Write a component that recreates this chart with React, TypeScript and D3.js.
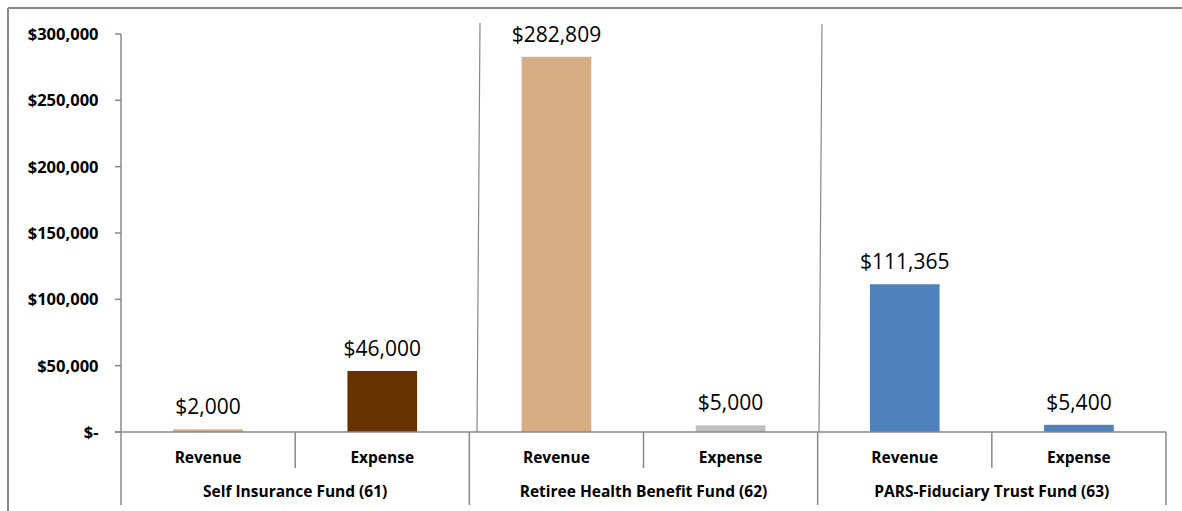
import React from "react";
import * as d3 from "d3";

const groups = ["Self Insurance Fund (61)", "Retiree Health Benefit Fund (62)", "PARS-Fiduciary Trust Fund (63)"];
const kinds = ["Revenue", "Expense"];
const values = [2000, 46000, 282809, 5000, 111365, 5400];
const barColors = ["#D6AD85", "#663300", "#D6AD85", "#BFBFBF", "#4F81BD", "#4F81BD"];
const yTicks = [0, 50000, 100000, 150000, 200000, 250000, 300000];

const W = 1182;
const H = 511;
const X0 = 121;
const X1 = 1166;
const Y0 = 432;
const Y1 = 34;
const FONT = "'Open Sans', 'Noto Sans', sans-serif";
const AXIS = "#888888";

export default function App() {
  const cats = groups.flatMap((g, gi) => kinds.map((k) => `${gi}-${k}`));
  const x = d3.scaleBand<string>().domain(cats).range([X0, X1]).paddingInner(0.6).paddingOuter(0.3);
  const y = d3.scaleLinear().domain([0, 300000]).range([Y0, Y1]);
  const step = x.step();
  const fmt = d3.format(",");
  const tickFmt = (v: number) => (v === 0 ? "$-" : "$" + fmt(v));

  const groupW = step * kinds.length;

  return (
    <svg
      width={W}
      height={H}
      style={{ position: "absolute", left: 0, top: 0, background: "#fff" }}
      fontFamily={FONT}
    >
      {/* outer frame */}
      <line x1={8} y1={8} x2={W} y2={8} stroke={AXIS} strokeWidth={2} />
      <line x1={8} y1={8} x2={8} y2={H} stroke={AXIS} strokeWidth={2} />

      {/* y axis */}
      <line x1={X0} y1={y(300000)} x2={X0} y2={Y0} stroke={AXIS} strokeWidth={1.5} />
      {yTicks.map((t) => (
        <g key={t}>
          <line x1={X0 - 6} x2={X0} y1={y(t)} y2={y(t)} stroke={AXIS} strokeWidth={1.5} />
          <text
            x={98.5}
            y={y(t)}
            dy="0.36em"
            textAnchor="end"
            fontWeight="bold"
            fontSize={16.5}
            fill="#000"
          >
            {tickFmt(t)}
          </text>
        </g>
      ))}

      {/* bars */}
      {cats.map((c, i) => (
        <rect
          key={c}
          x={x(c)}
          y={y(values[i])}
          width={x.bandwidth()}
          height={Y0 - y(values[i])}
          fill={barColors[i]}
        />
      ))}

      {/* value labels */}
      {cats.map((c, i) => (
        <text
          key={"l" + c}
          x={(x(c) as number) + x.bandwidth() / 2}
          y={y(values[i]) - 15}
          textAnchor="middle"
          fontSize={21}
          fill="#000"
        >
          {"$" + fmt(values[i])}
        </text>
      ))}

      {/* group separators in the plot */}
      <line x1={480} y1={23} x2={477} y2={Y0} stroke={AXIS} strokeWidth={1.2} />
      <line x1={822} y1={24} x2={819} y2={Y0} stroke={AXIS} strokeWidth={1.2} />

      {/* x axis */}
      <line x1={X0 - 6} x2={X1} y1={Y0} y2={Y0} stroke={AXIS} strokeWidth={1.5} />
      {groups.map((g, gi) => {
        const gx = X0 + gi * groupW;
        return (
          <g key={g}>
            <line x1={gx} x2={gx} y1={Y0} y2={505} stroke={AXIS} strokeWidth={1.5} />
            <line x1={gx + step} x2={gx + step} y1={Y0} y2={468} stroke={AXIS} strokeWidth={1.5} />
            <text
              x={gx + groupW / 2}
              y={497}
              textAnchor="middle"
              fontWeight="bold"
              fontSize={15.5}
              fill="#000"
            >
              {g}
            </text>
          </g>
        );
      })}
      <line x1={X1} x2={X1} y1={Y0} y2={505} stroke={AXIS} strokeWidth={1.5} />
      {cats.map((c, i) => (
        <text
          key={"c" + c}
          x={(x(c) as number) + x.bandwidth() / 2}
          y={463}
          textAnchor="middle"
          fontWeight="bold"
          fontSize={15.5}
          fill="#000"
        >
          {kinds[i % 2]}
        </text>
      ))}
    </svg>
  );
}
